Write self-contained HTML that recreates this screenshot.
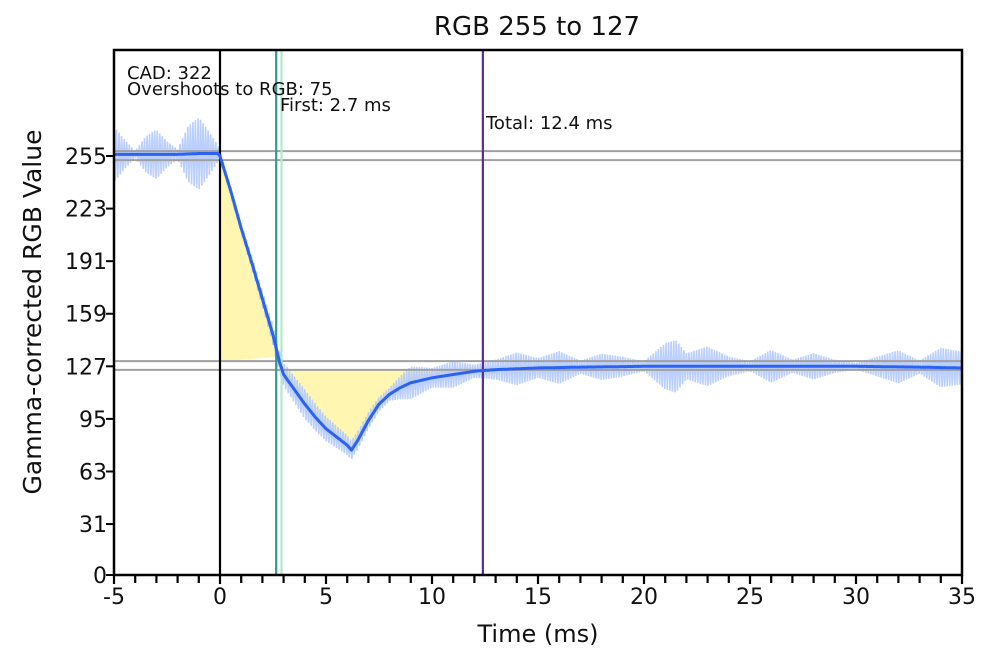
<!DOCTYPE html>
<html><head><meta charset="utf-8">
<style>
html,body{margin:0;padding:0;background:#fff;}
svg text{font-family:"DejaVu Sans","Liberation Sans",sans-serif;fill:#111;}
</style></head>
<body>
<svg id="chart" width="1000" height="661" viewBox="0 0 1000 661" xmlns="http://www.w3.org/2000/svg">
<text x="537" y="35" font-size="26" text-anchor="middle">RGB 255 to 127</text>
<g id="plot"></g>
<text x="538" y="642" font-size="24" text-anchor="middle">Time (ms)</text>
<text transform="translate(41,312) rotate(-90)" font-size="25" text-anchor="middle">Gamma-corrected RGB Value</text>
</svg>
<script>
const curveTimes = [-5,-4,-3,-2,-1,-0.1,0,0.5,1,1.5,2,2.5,2.8,3,3.5,4,4.5,5,5.5,6,6.2,6.5,7,7.5,8,8.5,9,10,11,12,13,15,17,20,25,30,33,35];
const curveValues = [256,256,256,256,256.5,256.5,255,234,211,190,168,146,130,122,113,104,96,89,84,79,76,82,94,104,110,114,117,120,122,124,125,126,126.5,127,127,127,126.5,126];
const noiseTimes = [-5,-4.5,-4,-3.5,-3,-2.5,-2,-1.5,-1,-0.5,0,1,2.5,4,6,8,9,10,11,12,13,14,15,16,17,18,19,20,21,21.5,22,23,24,25,26,27,28,29,30,31,32,33,34,35];
const noiseAmp = [17,9,2,11,15,8,3,17,22,13,3,3,6,9,6,4,10,6,8,4,6,10,6,10,4,8,6,3,14,16,8,12,6,3,10,4,8,4,2,6,10,4,12,10];
const yTicks = [0,31,63,95,127,159,191,223,255];
const xTicks = [-5,0,5,10,15,20,25,30,35];
const bandLines = [258,252.5,130.2,124.8];
const markers = [{t:0,c:"#000"},{t:2.65,c:"#2a9d8f"},{t:2.9,c:"#b5e8c8"},{t:12.4,c:"#5b2ca0"}];

const L=114,R=962,T=50,B=575;
const xs=t=>L+(t+5)/40*(R-L);
const ys=v=>B-v/255*(B-156);
const NS="http://www.w3.org/2000/svg";
const plot=document.getElementById('plot');
function mk(tag,attrs,parent){const e=document.createElementNS(NS,tag);for(const k in attrs)e.setAttribute(k,attrs[k]);(parent||plot).appendChild(e);return e;}
function interp(ts,vs,t){if(t<=ts[0])return vs[0];for(let i=1;i<ts.length;i++){if(t<=ts[i]){const f=(t-ts[i-1])/(ts[i]-ts[i-1]);return vs[i-1]+f*(vs[i]-vs[i-1]);}}return vs[vs.length-1];}

let up=`M${xs(0)},${ys(bandLines[2])}`;
for(let t=0;t<=2.8;t+=0.05){const v=interp(curveTimes,curveValues,t);if(v<bandLines[2])break;up+=` L${xs(t)},${ys(v)}`;}
up+='Z';
const f1=mk('path',{d:up,fill:"#fff5a8",opacity:0.9});


let dn='';let started=false;
for(let t=2.5;t<=14;t+=0.05){const v=interp(curveTimes,curveValues,t);if(v<bandLines[3]){dn+=(started?' L':'M')+`${xs(t)},${ys(v)}`;started=true;}}
dn+=` L${xs(12.4)},${ys(bandLines[3])} L${xs(2.85)},${ys(bandLines[3])}Z`;
const f2=mk('path',{d:dn,fill:"#fff5a8",opacity:0.9});



let np=[];let s=1;
for(let t=-5;t<=35.001;t+=0.06){const v=interp(curveTimes,curveValues,t)+s*interp(noiseTimes,noiseAmp,t);np.push(`${xs(t).toFixed(1)},${ys(v).toFixed(1)}`);s=-s;}
const nl=mk('polyline',{points:np.join(' '),fill:"none",stroke:"#b3caff","stroke-width":1.6,opacity:0.9});



bandLines.forEach(v=>{const l=mk('line',{x1:L,x2:R,y1:ys(v),y2:ys(v),stroke:"#a0a0a0","stroke-width":2});

});

markers.forEach(m=>{const l=mk('line',{x1:xs(m.t),x2:xs(m.t),y1:T,y2:B,stroke:m.c,"stroke-width":2.2});

});

let cp=[];for(let t=-5;t<=35;t+=0.05){cp.push(`${xs(t).toFixed(1)},${ys(interp(curveTimes,curveValues,t)).toFixed(1)}`);}
const cl=mk('polyline',{points:cp.join(' '),fill:"none",stroke:"#2b63f0","stroke-width":3,"stroke-linejoin":"round"});



const fr=mk('rect',{x:L,y:T,width:R-L,height:B-T,fill:"none",stroke:"#000","stroke-width":2.5});



yTicks.forEach(v=>{const l=mk('line',{x1:L-8,x2:L,y1:ys(v),y2:ys(v),stroke:"#000","stroke-width":2});


const tx=mk('text',{x:L-7,y:ys(v)+8,"font-size":22,"text-anchor":"end"});tx.textContent=v;

});
for(let t=-5;t<=35;t++){const l=mk('line',{x1:xs(t),x2:xs(t),y1:B,y2:B+(t%5===0?9:8),stroke:"#000","stroke-width":2.2});

}
xTicks.forEach(t=>{const tx=mk('text',{x:xs(t),y:B+29,"font-size":22,"text-anchor":"middle"});tx.textContent=t;

});

const ann=[["CAD: 322",127,79,"cad-label"],["Overshoots to RGB: 75",127,95,"overshoot-label"],["First: 2.7 ms",280,111,"first-label"],["Total: 12.4 ms",486,129,"total-label"]];
ann.forEach(a=>{const tx=mk('text',{x:a[1],y:a[2],"font-size":18});tx.textContent=a[0];

});
</script>
</body></html>
